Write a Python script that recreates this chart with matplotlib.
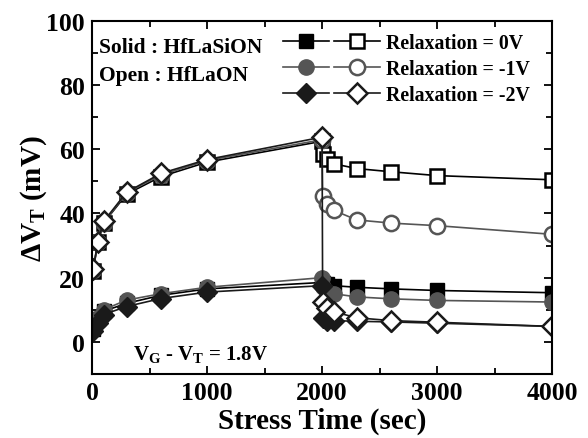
import numpy as np
import matplotlib
matplotlib.use('Agg')
import matplotlib.pyplot as plt
from matplotlib.legend_handler import HandlerTuple

plt.rcParams['font.family'] = ['Liberation Serif', 'DejaVu Serif']
plt.rcParams['font.weight'] = 'bold'
plt.rcParams['mathtext.default'] = 'regular'

# Daten
t_stress = [10, 50, 100, 300, 600, 1000, 2000]
t_relax = [2005, 2040, 2100, 2300, 2600, 3000, 4000]

# HfLaON (offen)
open_0V = [22, 31, 37, 46, 51.5, 56, 62.5] + [58.5, 57, 55.5, 54, 53, 51.8, 50.5]
open_1V = [22.5, 31, 37, 46.5, 52, 56.5, 63] + [45.4, 43, 41, 38, 37, 36.2, 33.5]
open_2V = [22.7, 31, 37.5, 46.6, 52.5, 56.8, 63.8] + [12.4, 10.5, 9.4, 7.5, 6.6, 6.1, 4.8]
# HfLaSiON (gefuellt)
solid_0V = [4, 7, 9.5, 12, 14.5, 16.5, 18.5] + [18.3, 18, 17.5, 17, 16.5, 16, 15.3]
solid_1V = [5, 7.5, 10, 13, 15, 17, 20] + [17, 15.5, 15, 14, 13.4, 12.9, 12.4]
solid_2V = [3.5, 6, 8.5, 11, 13.5, 15.5, 17.5] + [7.5, 6.6, 6.6, 6.4, 6.2, 5.8, 4.8]

labels = ['Relaxation = 0V', 'Relaxation = -1V', 'Relaxation = -2V']

t = np.array(t_stress + t_relax)

fig = plt.figure(figsize=(5.88, 4.39), dpi=100)
ax = fig.add_axes([0.1565, 0.146, 0.7825, 0.804])

styles = [
    dict(marker='s', color='black', fill='black'),
    dict(marker='o', color='#555555', fill='#555555'),
    dict(marker='D', color='#1a1a1a', fill='#1a1a1a'),
]
sizes = {'s': 10, 'o': 11, 'D': 10}

handles = []
for st, sol, op in zip(styles, [solid_0V, solid_1V, solid_2V],
                       [open_0V, open_1V, open_2V]):
    m = st['marker']
    h1, = ax.plot(t, sol, marker=m, color=st['color'], mfc=st['fill'],
                  mec=st['fill'], ms=sizes[m], lw=1.2)
    h2, = ax.plot(t, op, marker=m, color=st['color'], mfc='white',
                  mec=st['color'], ms=sizes[m], mew=1.8, lw=1.2)
    handles.append((h1, h2))

ax.legend(handles, labels, handler_map={tuple: HandlerTuple(ndivide=None, pad=0.25)},
          loc='upper left', bbox_to_anchor=(0.415, 0.966), frameon=False,
          fontsize=14.3, handlelength=4.9, handletextpad=0.3, labelspacing=0.3,
          borderaxespad=0, borderpad=0)

ax.text(62, 92.0, 'Solid : HfLaSiON', fontsize=15.5, fontweight='bold', va='center')
ax.text(62, 83.0, 'Open : HfLaON', fontsize=15.5, fontweight='bold', va='center')
ax.text(357, -5.3, r'V$_G$ - V$_T$ = 1.8V', fontsize=15, fontweight='bold', va='baseline')

ax.set_xlim(0, 4000)
ax.set_ylim(-10, 100)
ax.set_xticks([0, 1000, 2000, 3000, 4000])
ax.set_xticks([500, 1500, 2500, 3500], minor=True)
ax.set_yticks([0, 20, 40, 60, 80, 100])
ax.set_yticks([-10, 10, 30, 50, 70, 90], minor=True)
ax.tick_params(which='both', direction='in', top=True, right=True, width=1.3)
ax.tick_params(which='major', length=6, labelsize=18.5, pad=5)
ax.tick_params(which='minor', length=4)
for s in ax.spines.values():
    s.set_linewidth(1.5)

ax.set_xlabel('Stress Time (sec)', fontsize=21, fontweight='bold', labelpad=2)
ax.set_ylabel(r'$\Delta$V$_T$ (mV)', fontsize=21, fontweight='bold', labelpad=-2)

fig.savefig('out.png', dpi=100)
